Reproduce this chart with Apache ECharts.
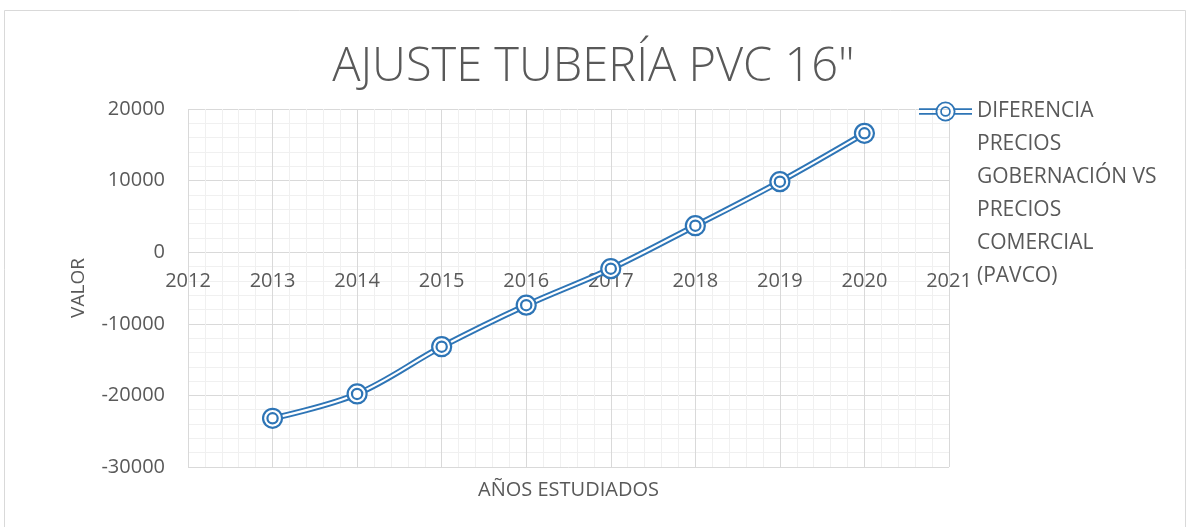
<!DOCTYPE html>
<html>
<head>
<meta charset="utf-8">
<script src="https://cdn.jsdelivr.net/npm/echarts@6/dist/echarts.min.js"></script>
<style>
  html, body { margin: 0; padding: 0; background: #fff; }
  #chart { width: 1187px; height: 527px; }
</style>
</head>
<body>
<div id="chart"></div>
<script>
// ---- data ----
const years = [2013, 2014, 2015, 2016, 2017, 2018, 2019, 2020];
const diferencia = [-23200, -19800, -13200, -7400, -2300, 3700, 9850, 16600];
const seriesName = 'DIFERENCIA PRECIOS GOBERNACIÓN VS PRECIOS COMERCIAL (PAVCO)';
const legendLines = ['DIFERENCIA', 'PRECIOS', 'GOBERNACIÓN VS', 'PRECIOS', 'COMERCIAL', '(PAVCO)'];
const titleText = 'AJUSTE TUBERÍA PVC 16"';
const xName = 'AÑOS ESTUDIADOS';
const yName = 'VALOR';

const points = years.map((y, i) => [y, diferencia[i]]);

const BLUE = '#2e75b6';
const TXT = '#595959';
const FONT = "'Open Sans', 'Noto Sans', sans-serif";

const markerPath = 'path://M0,10A10,10 0 1,1 20,10A10,10 0 1,1 0,10Z M4.6,10A5.4,5.4 0 1,1 15.4,10A5.4,5.4 0 1,1 4.6,10Z';
const legendPath = 'path://M0,6.85H17.3V8.45H0Z M35.7,6.85H53V8.45H35.7Z M0,11.55H17.3V13.15H0Z M35.7,11.55H53V13.15H35.7Z ' +
  'M16.5,10A10,10 0 1,1 36.5,10A10,10 0 1,1 16.5,10Z M18.3,10A8.2,8.2 0 1,0 34.7,10A8.2,8.2 0 1,0 18.3,10Z ' +
  'M21.2,10A5.3,5.3 0 1,1 31.8,10A5.3,5.3 0 1,1 21.2,10Z M22.9,10A3.6,3.6 0 1,0 30.1,10A3.6,3.6 0 1,0 22.9,10Z';

// blank lines above so the first legend line sits level with the icon
const legendText = '\n'.repeat(legendLines.length - 1) + legendLines.join('\n');

const chart = echarts.init(document.getElementById('chart'), null, { renderer: 'canvas' });

chart.setOption({
  backgroundColor: '#ffffff',
  animation: false,
  textStyle: { fontFamily: FONT },
  graphic: [{
    type: 'rect',
    shape: { x: 4.5, y: 10.5, width: 1181, height: 540 },
    style: { fill: 'none', stroke: '#d9d9d9', lineWidth: 1 },
    silent: true,
    z: -10
  }],
  title: {
    text: titleText,
    left: 'center',
    top: 44,
    padding: 0,
    textStyle: { fontFamily: FONT, fontSize: 47, fontWeight: 300, color: TXT }
  },
  legend: {
    left: 919,
    top: -70,
    padding: 0,
    itemWidth: 53,
    itemHeight: 20,
    selectedMode: false,
    data: [{ name: seriesName, icon: legendPath }],
    formatter: () => legendText,
    textStyle: { fontFamily: FONT, fontSize: 21, color: TXT, lineHeight: 33 }
  },
  grid: { left: 188, right: 238, top: 109, bottom: 60, containLabel: false, outerBoundsMode: 'none' },
  xAxis: {
    type: 'value',
    min: 2012, max: 2021, interval: 1,
    name: xName,
    nameLocation: 'middle',
    nameGap: 13,
    nameTextStyle: { fontFamily: FONT, fontSize: 20, color: TXT },
    axisLine: { show: false, onZero: false },
    axisTick: { show: false },
    // labels sit just under the zero line, as in the reference
    axisLabel: { fontFamily: FONT, fontSize: 20, color: TXT, margin: -196, formatter: v => String(v) },
    splitLine: { show: true, lineStyle: { color: '#d9d9d9', width: 1 } },
    minorTick: { show: false, splitNumber: 5 },
    minorSplitLine: { show: true, lineStyle: { color: '#f0f0f0', width: 1 } }
  },
  yAxis: {
    type: 'value',
    min: -30000, max: 20000, interval: 10000,
    name: yName,
    nameLocation: 'middle',
    nameGap: 100,
    nameRotate: 90,
    nameTextStyle: { fontFamily: FONT, fontSize: 19, color: TXT },
    axisLine: { show: false, onZero: false },
    axisTick: { show: false },
    axisLabel: { fontFamily: FONT, fontSize: 20, color: TXT, margin: 23, formatter: v => String(v) },
    splitLine: { show: true, lineStyle: { color: '#d9d9d9', width: 1 } },
    minorTick: { show: false, splitNumber: 5 },
    minorSplitLine: { show: true, lineStyle: { color: '#f0f0f0', width: 1 } }
  },
  series: [
    {
      name: seriesName,
      type: 'line',
      data: points,
      smooth: 0.35,
      symbol: 'none',
      color: BLUE,
      lineStyle: { color: BLUE, width: 6 },
      itemStyle: { color: BLUE },
      z: 2
    },
    {
      name: 'inner',
      type: 'line',
      data: points,
      smooth: 0.35,
      symbol: markerPath,
      symbolSize: 19,
      showAllSymbol: true,
      lineStyle: { color: '#ffffff', width: 2.2 },
      itemStyle: { color: '#ffffff', borderColor: BLUE, borderWidth: 2.2 },
      z: 3
    }
  ]
});
</script>
</body>
</html>
